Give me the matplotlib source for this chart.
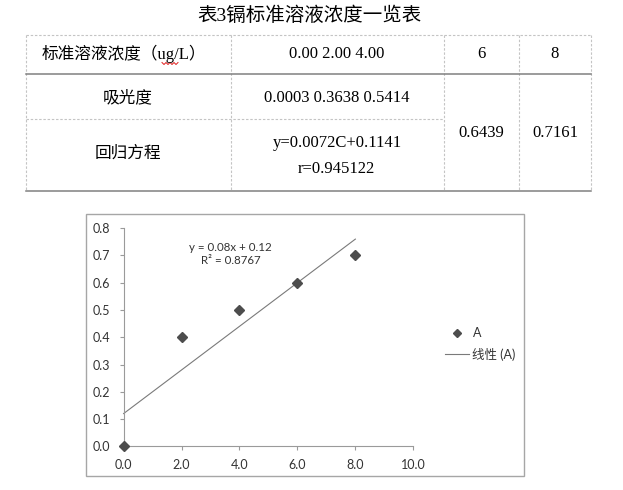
import numpy as np
import matplotlib
matplotlib.use("Agg")
import matplotlib.pyplot as plt
from matplotlib.lines import Line2D
from matplotlib.patches import Rectangle

# data from the chart
conc = [0.0, 2.0, 4.0, 6.0, 8.0]
absorb = [0.0, 0.4, 0.5, 0.6, 0.7]
fit_text = ["y = 0.08x + 0.12", "R\u00b2 = 0.8767"]
series_name = "A"
trend_name = "线性 (A)"
x_ticks = [0, 2, 4, 6, 8, 10]
y_ticks = [0.0, 0.1, 0.2, 0.3, 0.4, 0.5, 0.6, 0.7, 0.8]

# table above the chart
title = "表3镉标准溶液浓度一览表"
row_heads = ["标准溶液浓度（ug/L）", "吸光度", "回归方程"]
conc_cell = "0.00 2.00 4.00"
abs_cell = "0.0003 0.3638 0.5414"
reg_cell = ["y=0.0072C+0.1141", "r=0.945122"]
extra_conc = ["6", "8"]
extra_abs = ["0.6439", "0.7161"]

W, H = 623, 490
fig = plt.figure(figsize=(W / 100, H / 100), dpi=100)

# full-figure layer in pixel units for the table and frame
bg = fig.add_axes([0, 0, 1, 1])
bg.set_xlim(0, W)
bg.set_ylim(H, 0)
bg.axis("off")

serif_cjk = ["Liberation Serif", "Noto Sans CJK SC"]
sans_cjk = ["Lato", "Noto Sans CJK SC"]

bg.text(309, 15.5, title, ha="center", va="center", fontsize=14, family=serif_cjk)

dash = dict(color="#c4c4c4", lw=0.8, ls=(0, (2.2, 1.6)))
solid = dict(color="#808080", lw=1.1)
left, right, top, bottom = 26, 591, 35, 191
cols = [230.5, 444.3, 519.3]
bg.plot([left, right], [top, top], **dash)
bg.plot([left, left], [top, bottom], **dash)
bg.plot([right, right], [top, bottom], **dash)
for cx in cols:
    bg.plot([cx, cx], [top, bottom], **dash)
bg.plot([left, cols[1]], [119.3, 119.3], **dash)
bg.plot([left, right], [74, 74], **solid)
bg.plot([left, right], [bottom, bottom], **solid)

bg.text(124, 54, row_heads[0], ha="center", va="center", fontsize=12, family=serif_cjk)
bg.text(128, 98, row_heads[1], ha="center", va="center", fontsize=12, family=serif_cjk)
bg.text(128, 154, row_heads[2], ha="center", va="center", fontsize=12, family=serif_cjk)
# spell-check squiggle under "ug"
zx = np.arange(162, 180, 2)
bg.plot(zx, np.where(np.arange(len(zx)) % 2 == 0, 62.5, 64.5), color="#e02020", lw=0.7)

bg.text(337, 54, conc_cell, ha="center", va="center", fontsize=12, family=serif_cjk)
bg.text(337, 98, abs_cell, ha="center", va="center", fontsize=12, family=serif_cjk)
bg.text(337, 143, reg_cell[0], ha="center", va="center", fontsize=12, family=serif_cjk)
bg.text(336, 169, reg_cell[1], ha="center", va="center", fontsize=12, family=serif_cjk)
for cx, a, b in zip([481.7, 555], extra_conc, extra_abs):
    bg.text(cx, 54, a, ha="center", va="center", fontsize=12, family=serif_cjk)
    bg.text(cx, 133, b, ha="center", va="center", fontsize=12, family=serif_cjk)

# chart frame
bg.add_patch(Rectangle((86, 213.7), 524.3 - 86, 476 - 213.7, fill=False,
                       edgecolor="#a6a6a6", lw=1.0))

# chart axes
ax_l, ax_r, ax_b, ax_t = 123.6, 413.3, 446.3, 228.2
ax = fig.add_axes([ax_l / W, 1 - ax_b / H, (ax_r - ax_l) / W, (ax_b - ax_t) / H])
ax.set_xlim(0, 10)
ax.set_ylim(0, 0.8)
ax.patch.set_alpha(0)

slope, intercept = np.polyfit(conc, absorb, 1)
xs = np.array([0, max(conc)])
ax.plot(xs, slope * xs + intercept, color="#7a7a7a", lw=0.8, clip_on=False)
ax.plot(conc, absorb, "D", color="#4d4d4d", markersize=5.6, clip_on=False, zorder=5)

for s in ["top", "right"]:
    ax.spines[s].set_visible(False)
for s in ["left", "bottom"]:
    ax.spines[s].set_color("#9a9a9a")
    ax.spines[s].set_linewidth(0.8)

ax.set_xticks(x_ticks)
ax.set_xticklabels([f"{v:.1f}" for v in x_ticks])
ax.set_yticks(y_ticks)
ax.set_yticklabels([f"{v:.1f}" for v in y_ticks])
ax.tick_params(axis="both", colors="#9a9a9a", labelcolor="#333333",
               labelsize=9, length=3, width=0.8, direction="out")
ax.tick_params(axis="y", pad=6.5)
ax.tick_params(axis="x", pad=6.5)
for lab in ax.get_xticklabels() + ax.get_yticklabels():
    lab.set_family("Lato")

ax.text(3.7, 0.705, fit_text[0] + "\n" + fit_text[1], ha="center", va="center",
        fontsize=8.3, family=sans_cjk, color="#333333", linespacing=1.2)

handles = [Line2D([], [], ls="none", marker="D", color="#4d4d4d", markersize=4),
           Line2D([], [], color="#7a7a7a", lw=0.8)]
leg = fig.legend(handles, [series_name, trend_name], loc="center left",
                 bbox_to_anchor=(445 / W, 1 - 344 / H), frameon=False,
                 borderpad=0, borderaxespad=0, handlelength=1.95,
                 handletextpad=0.25, labelspacing=0.65,
                 prop={"family": sans_cjk, "size": 9})
for t in leg.get_texts():
    t.set_color("#333333")

fig.savefig("out.png", dpi=100)
